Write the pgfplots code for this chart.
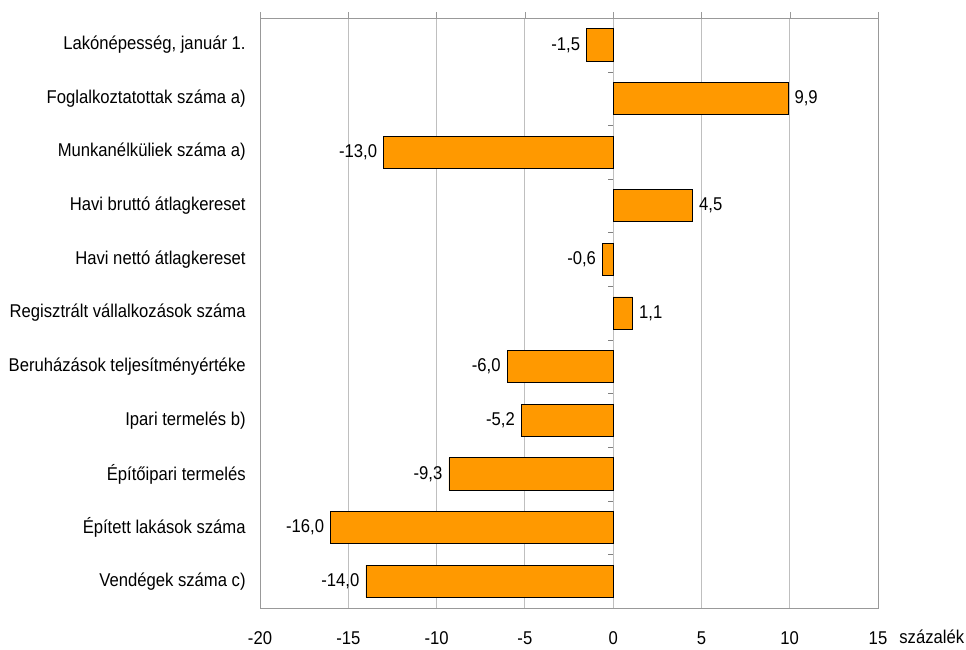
\documentclass[border=0pt]{standalone}
\usepackage{pgfplots}
\pgfplotsset{compat=1.18}
\usepackage{fontspec}
\setmainfont{Liberation Sans}[FakeStretch=0.9]
\definecolor{barorange}{HTML}{FF9900}
\begin{document}
\fontsize{18.5}{22}\selectfont
\begin{tikzpicture}
\useasboundingbox (0,0) rectangle (966pt,649pt);
% zero line with category-boundary ticks
\begin{axis}[at={(613.143pt,41pt)}, anchor=south west, scale only axis,
  width=264.857pt, height=590pt, xmin=0, xmax=15, ymin=-0.5, ymax=10.5,
  y dir=reverse, hide x axis, axis y line*=left,
  ytick={0.5,1.5,...,9.5}, yticklabels={}, tick align=outside,
  major tick length=5pt, y axis line style={color=black!50},
  ytick style={color=black!50}]
\addplot[draw=none] coordinates {(1,1)};
\end{axis}
\begin{axis}[at={(260pt,41pt)}, anchor=south west, scale only axis,
  width=618pt, height=590pt,
  xmin=-20, xmax=15, ymin=-0.5, ymax=10.5, y dir=reverse,
  xbar, bar width=0.6, bar shift=0pt,
  xtick={-20,-15,...,15}, xtick pos=right, xticklabel pos=left,
  tick align=outside, major tick length=6pt,
  x tick style={color=black!40},
  xticklabel style={yshift=-11pt},
  ytick={0,...,10}, ytick style={draw=none},
  yticklabel style={xshift=-2pt},
  yticklabels={{Lakónépesség, január 1.},{Foglalkoztatottak száma a)},{Munkanélküliek száma a)},{Havi bruttó átlagkereset},{Havi nettó átlagkereset},{Regisztrált vállalkozások száma},{Beruházások teljesítményértéke},{Ipari termelés b)},{Építőipari termelés},{Épített lakások száma},{Vendégek száma c)}},
  xmajorgrids, grid style={color=black!25, line width=0.8pt},
  axis line style={color=black!40, line width=0.8pt},
  /pgf/number format/assume math mode=true,
  xlabel={százalék},
  xlabel style={at={(rel axis cs:1,0)}, anchor=west, xshift=15pt, yshift=-29pt},
  point meta=x,
  nodes near coords,
  nodes near coords align=horizontal,
  every node near coord/.append style={color=black, /pgf/number format/.cd, fixed, fixed zerofill, precision=1, use comma, assume math mode=true},
]
\addplot[fill=barorange, draw=black, line width=0.8pt] table[x=v, y=i] {
i v
0 -1.5
1 9.9
2 -13.0
3 4.5
4 -0.6
5 1.1
6 -6.0
7 -5.2
8 -9.3
9 -16.0
10 -14.0
};
\end{axis}
\end{tikzpicture}
\end{document}
